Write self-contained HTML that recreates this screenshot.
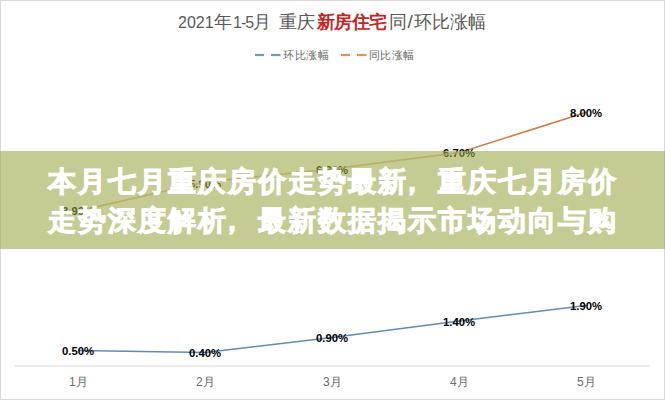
<!DOCTYPE html>
<html><head><meta charset="utf-8">
<style>
html,body{margin:0;padding:0;background:#fff;}
body{width:665px;height:400px;position:relative;overflow:hidden;font-family:"Liberation Sans",sans-serif;}
#frame{position:absolute;left:0;top:0;width:663px;height:398px;border:1px solid #d9d9d9;}
svg{position:absolute;left:0;top:0;}
.tt{position:absolute;top:10px;font-size:18px;line-height:24px;color:#595959;white-space:nowrap;}
.tt.n{font-size:16px;top:11px;}
.lg{position:absolute;top:46.5px;font-size:11px;letter-spacing:0.5px;line-height:16px;color:#6a6a6a;white-space:nowrap;}
.lbl{position:absolute;font-weight:bold;font-size:11.3px;line-height:12px;color:#000;white-space:nowrap;}
.ax{position:absolute;top:373.5px;font-size:12px;line-height:16px;color:#6a6a6a;white-space:nowrap;}
.cm{position:relative;left:-10px;top:0px;}
#banner{position:absolute;left:0;top:151px;width:665px;height:98px;background:rgba(155,167,69,0.58);overflow:hidden;}
.bl{position:absolute;left:48px;font-size:28px;letter-spacing:2px;font-weight:bold;color:#fff;white-space:nowrap;line-height:40px;-webkit-text-stroke:1px #fff;}
</style></head><body>
<div id="frame"></div>
<svg width="665" height="400" viewBox="0 0 665 400">
  <line x1="14.5" y1="366" x2="650" y2="366" stroke="#d9d9d9" stroke-width="1.2"/>
  <line x1="255" y1="55" x2="264" y2="55" stroke="#7299c0" stroke-width="2.2"/>
  <line x1="271" y1="55" x2="280.5" y2="55" stroke="#7299c0" stroke-width="2.2"/>
  <line x1="341" y1="55" x2="350" y2="55" stroke="#e3925c" stroke-width="2.2"/>
  <line x1="357" y1="55" x2="366.5" y2="55" stroke="#e3925c" stroke-width="2.2"/>
  <polyline points="78,350.5 205,352.5 332,337.5 459.5,321 586.5,305.5" fill="none" stroke="#5b8dbd" stroke-width="1.5"/>
  <polyline points="78,211 205,182 332,169 459.5,152.5 586.5,112.3" fill="none" stroke="#cf7b45" stroke-width="1.5"/>
</svg>
<div class="tt n" style="left:178px">2021</div>
<div class="tt" style="left:214px">年</div>
<div class="tt n" style="left:233px;letter-spacing:-1px">1-5</div>
<div class="tt" style="left:253px">月</div>
<div class="tt" style="left:279px">重庆</div>
<div class="tt" style="left:317px;color:#c42626;font-weight:bold;letter-spacing:-0.6px">新房住宅</div>
<div class="tt" style="left:389px">同</div>
<div class="tt n" style="left:407.5px;font-size:19px;top:10px">/</div>
<div class="tt" style="left:414px">环比涨幅</div>
<div class="lg" style="left:283px">环比涨幅</div>
<div class="lg" style="left:368.5px">同比涨幅</div>

<div class="lbl" style="left:62px;top:345px">0.50%</div>
<div class="lbl" style="left:189px;top:347px">0.40%</div>
<div class="lbl" style="left:316px;top:332px">0.90%</div>
<div class="lbl" style="left:443px;top:316px">1.40%</div>
<div class="lbl" style="left:570px;top:300px">1.90%</div>

<div class="lbl" style="left:62px;top:205px">3.90%</div>
<div class="lbl" style="left:189px;top:178px">5.90%</div>
<div class="lbl" style="left:316px;top:164px">6.30%</div>
<div class="lbl" style="left:443px;top:147px">6.70%</div>
<div class="lbl" style="left:570px;top:107px">8.00%</div>

<div class="ax" style="left:69px">1月</div>
<div class="ax" style="left:196px">2月</div>
<div class="ax" style="left:323px">3月</div>
<div class="ax" style="left:450px">4月</div>
<div class="ax" style="left:577px">5月</div>

<div id="banner">
  <svg width="665" height="98" viewBox="0 151 665 98" style="position:absolute;left:0;top:0"><polyline points="78,211 205,182 332,169 459.5,152.5 586.5,112.3" fill="none" stroke="#c5cc93" stroke-opacity="0.45" stroke-width="2"/></svg>
  <div class="bl" style="top:11px">本月七月重庆房价走势最新<span class="cm">，</span>重庆七月房价</div>
  <div class="bl" style="top:49.5px">走势深度解析<span class="cm">，</span>最新数据揭示市场动向与购</div>
</div>
</body></html>
